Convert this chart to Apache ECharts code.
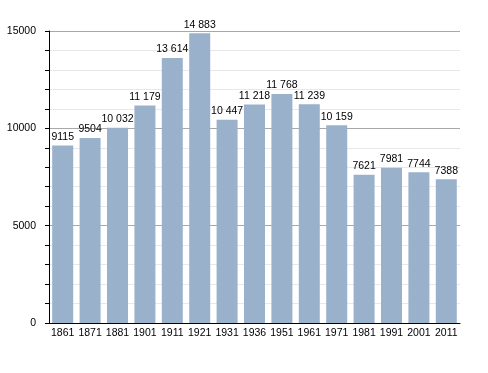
<!DOCTYPE html>
<html><head><meta charset="utf-8">
<script src="https://cdn.jsdelivr.net/npm/echarts@6/dist/echarts.min.js"></script>
<style>html,body{margin:0;padding:0;background:#fff}#c{width:488px;height:373px}</style>
</head><body><div id="c"></div>
<script>
const categories = ['1861','1871','1881','1901','1911','1921','1931','1936','1951','1961','1971','1981','1991','2001','2011'];
const population = [9115, 9504, 10032, 11179, 13614, 14883, 10447, 11218, 11768, 11239, 10159, 7621, 7981, 7744, 7388];
const yMin = 0, yMax = 15000, yInterval = 5000;

function fmt(v){
  const s = String(v);
  if (s.length <= 4) return s;
  return s.replace(/\B(?=(\d{3})+(?!\d))/g, ' ');
}

const chart = echarts.init(document.getElementById('c'), null, {renderer:'canvas'});
chart.setOption({
  animation:false,
  textStyle:{fontFamily:'Liberation Sans, Arial, sans-serif'},
  grid:{left:49, right:28, top:31, bottom:50, containLabel:false},
  xAxis:{
    type:'category', data:categories,
    axisLine:{show:true, lineStyle:{color:'#000', width:1}},
    axisTick:{show:false},
    axisLabel:{color:'#000', fontSize:10.5, margin:5, interval:0}
  },
  yAxis:{
    type:'value', min:yMin, max:yMax, interval:yInterval,
    axisLine:{show:true, lineStyle:{color:'#000', width:1}},
    axisTick:{show:true, inside:false, length:4, lineStyle:{color:'#000'}},
    minorTick:{show:true, splitNumber:5, length:4, lineStyle:{color:'#000'}},
    splitLine:{show:true, lineStyle:{color:'#a8a8a8', width:1}},
    minorSplitLine:{show:true, lineStyle:{color:'#e8e8e8', width:1}},
    axisLabel:{color:'#000', fontSize:10.5, margin:13, formatter:v=>String(v)}
  },
  series:[{
    type:'bar', data:population, barWidth:21,
    itemStyle:{color:'#9ab1cc'},
    label:{show:true, position:'top', color:'#000', fontSize:10.5, distance:3, formatter:p=>fmt(p.value)}
  }]
});
</script></body></html>
